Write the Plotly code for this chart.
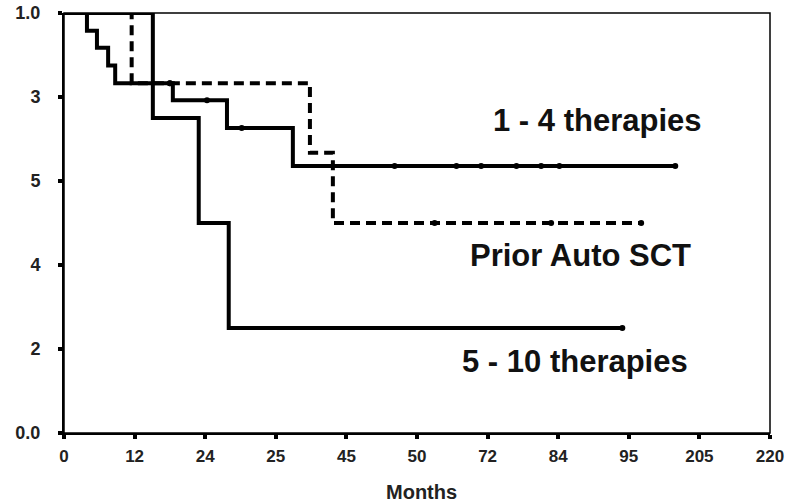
import plotly.graph_objects as go

# ---- data ----
x_tickvals = [0, 12, 24, 36, 48, 60, 72, 84, 96, 108, 120]
x_ticktext = ["0", "12", "24", "25", "45", "50", "72", "84", "95", "205", "220"]
y_tickvals = [1.0, 0.8, 0.6, 0.4, 0.2, 0.0]
y_ticktext = ["1.0", "3", "5", "4", "2", "0.0"]

g1_times = [0, 3.9, 5.6, 7.5, 8.7, 18.5, 27.7, 38.9, 103.9]
g1_surv = [1.0, 0.958, 0.917, 0.875, 0.833, 0.792, 0.726, 0.636, 0.636]
g1_cens = [18.0, 24.3, 30.2, 56.2, 66.7, 70.9, 76.9, 81.1, 84.2, 103.9]

g2_times = [0, 11.5, 41.8, 45.7, 98.1]
g2_surv = [1.0, 0.833, 0.667, 0.5, 0.5]
g2_cens = [18.0, 63.0, 82.8, 98.1]

g3_times = [0, 15.1, 22.9, 28.0, 94.9]
g3_surv = [1.0, 0.75, 0.5, 0.25, 0.25]
g3_cens = [94.9]

labels = ["1 - 4 therapies", "Prior Auto SCT", "5 - 10 therapies"]


def surv_at(times, surv, t):
    val = surv[0]
    for ti, si in zip(times, surv):
        if ti <= t:
            val = si
    return val


FONT = "Arial, Liberation Sans, sans-serif"
fig = go.Figure()

groups = [
    (g1_times, g1_surv, g1_cens, "solid"),
    (g2_times, g2_surv, g2_cens, "10px,6px"),
    (g3_times, g3_surv, g3_cens, "solid"),
]
for (t, s, c, dash), name in zip(groups, labels):
    fig.add_trace(go.Scatter(x=t, y=s, mode="lines", line_shape="hv",
                             line=dict(color="black", width=4, dash=dash),
                             name=name, showlegend=False, hoverinfo="skip"))
    fig.add_trace(go.Scatter(x=c, y=[surv_at(t, s, ci) for ci in c], mode="markers",
                             marker=dict(color="black", size=6, symbol="circle"),
                             showlegend=False, hoverinfo="skip"))

ann = [(597, 0.745, labels[0]), (580, 0.423, labels[1]), (575, 0.17, labels[2])]
annotations = []
for px, y, txt in ann:
    annotations.append(dict(x=(px - 64) / 706, xref="paper", y=y, yref="y", text=txt,
                            showarrow=False, xanchor="center", yanchor="middle",
                            font=dict(family=FONT, size=31, color="#111", weight="bold")))
annotations.append(dict(x=(422 - 64) / 706, xref="paper", y=-0.14, yref="paper", text="Months",
                        showarrow=False, xanchor="center", yanchor="middle",
                        font=dict(family=FONT, size=20, color="#222", weight="bold")))

fig.update_layout(
    width=785, height=504,
    margin=dict(l=64, r=15, t=13, b=71),
    paper_bgcolor="white", plot_bgcolor="white",
    font=dict(family=FONT, color="#222"),
    annotations=annotations,
    shapes=[dict(type="rect", xref="paper", yref="paper", x0=0, x1=1, y0=0, y1=1,
                 line=dict(color="black", width=1.5), layer="below")],
)
fig.update_xaxes(range=[0, 120], tickvals=x_tickvals, ticktext=x_ticktext, automargin=False,
                 ticklabeloverflow="allow",
                 showgrid=False, zeroline=False, showline=True, linecolor="black", linewidth=2,
                 ticks="outside", ticklen=4, tickwidth=4, tickcolor="black", ticklabelstandoff=3,
                 tickfont=dict(family=FONT, size=17, color="#222", weight="bold"))
fig.update_yaxes(range=[0, 1], tickvals=y_tickvals, ticktext=y_ticktext, automargin=False,
                 ticklabeloverflow="allow",
                 showgrid=False, zeroline=False, showline=True, linecolor="black", linewidth=2,
                 ticks="outside", ticklen=4, tickwidth=4, tickcolor="black", ticklabelstandoff=14,
                 tickfont=dict(family=FONT, size=18, color="#222", weight="bold"))

fig.write_html("out.html", config={"displayModeBar": False},
               post_script="document.body.style.margin='0px';document.body.style.overflow='hidden';")
